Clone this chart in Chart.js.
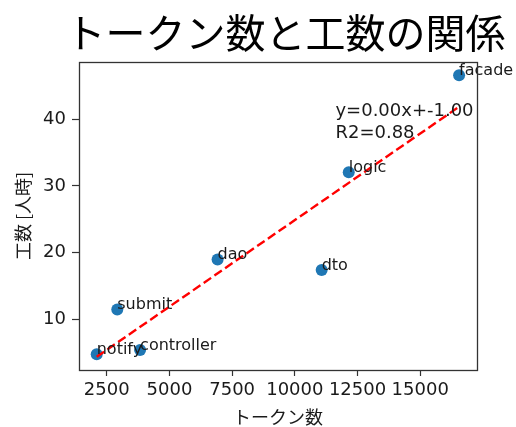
<!DOCTYPE html>
<html>
<head>
<meta charset="utf-8">
<script src="https://cdn.jsdelivr.net/npm/chart.js@4.4.1/dist/chart.umd.min.js"></script>
<style>
  html, body { margin: 0; padding: 0; background: #fff; }
  #wrap { width: 516px; height: 427px; }
</style>
</head>
<body>
<div id="wrap"><canvas id="c" width="516" height="427"></canvas></div>
<script>
// ---- data ----
const names   = ['notify', 'submit', 'controller', 'dao', 'dto', 'logic', 'facade'];
const tokens  = [2100, 2920, 3830, 6920, 11070, 12150, 16550];
const manHours = [4.7, 11.45, 5.35, 18.95, 17.35, 32.05, 46.6];
const xTicks = [2500, 5000, 7500, 10000, 12500, 15000];
const yTicks = [10, 20, 30, 40];
const titleText = 'トークン数と工数の関係';
const xTitle = 'トークン数';
const yTitle = '工数 [人時]';
const eqLines = ['y=0.00x+-1.00', 'R2=0.88'];
const eqAnchor = { x: 11620, y: 40.5 };   // data position of the equation text
const xRange = [1394, 17264];
const yRange = [2.35, 48.6];

// least-squares fit drawn from the data (as the original does)
const n = tokens.length;
const mx = tokens.reduce((a, b) => a + b, 0) / n;
const my = manHours.reduce((a, b) => a + b, 0) / n;
let sxy = 0, sxx = 0;
for (let i = 0; i < n; i++) { sxy += (tokens[i] - mx) * (manHours[i] - my); sxx += (tokens[i] - mx) ** 2; }
const slope = sxy / sxx, intercept = my - slope * mx;
const xmin = Math.min(...tokens), xmax = Math.max(...tokens);
const fitLine = [{ x: xmin, y: slope * xmin + intercept }, { x: xmax, y: slope * xmax + intercept }];

const points = tokens.map((t, i) => ({ x: t, y: manHours[i] }));

const TXT = '#1a1a1a';
const AX = '#333333';

const decor = {
  id: 'decor',
  afterDatasetsDraw(chart) {
    const { ctx, chartArea: ca, scales } = chart;
    ctx.save();
    // point labels
    ctx.font = '16px "DejaVu Sans"';
    ctx.fillStyle = TXT;
    ctx.textAlign = 'left';
    ctx.textBaseline = 'alphabetic';
    names.forEach((nm, i) => {
      ctx.fillText(nm, scales.x.getPixelForValue(tokens[i]), scales.y.getPixelForValue(manHours[i]));
    });
    // equation
    ctx.font = '18px "DejaVu Sans"';
    const ex = scales.x.getPixelForValue(eqAnchor.x);
    const ey = scales.y.getPixelForValue(eqAnchor.y);
    eqLines.forEach((l, i) => ctx.fillText(l, ex, ey + i * 21.6));
    // frame
    ctx.strokeStyle = AX;
    ctx.lineWidth = 1.3;
    ctx.strokeRect(Math.round(ca.left) + 0.5, Math.round(ca.top) + 0.5,
                   Math.round(ca.right - ca.left), Math.round(ca.bottom - ca.top));
    // title
    ctx.font = '40px "Noto Sans CJK JP"';
    ctx.fillStyle = '#000';
    ctx.textAlign = 'center';
    ctx.textBaseline = 'middle';
    ctx.fillText(titleText, 285.5, 33);
    ctx.restore();
  }
};

new Chart(document.getElementById('c'), {
  type: 'scatter',
  data: {
    datasets: [
      {
        type: 'line',
        data: fitLine,
        borderColor: '#ff0000',
        borderWidth: 2.4,
        borderDash: [9, 4],
        pointRadius: 0,
        fill: false,
        order: 0
      },
      {
        data: points,
        backgroundColor: '#1f77b4',
        borderWidth: 0,
        pointRadius: 6,
        order: 1
      }
    ]
  },
  options: {
    responsive: false,
    animation: false,
    events: [],
    layout: { padding: { top: 62, right: 39, left: 0, bottom: 0 } },
    plugins: { legend: { display: false }, tooltip: { enabled: false }, title: { display: false } },
    scales: {
      x: {
        type: 'linear',
        min: xRange[0], max: xRange[1],
        afterFit: s => { s.height = 57; },
        afterBuildTicks: s => { s.ticks = xTicks.map(v => ({ value: v })); },
        grid: { drawOnChartArea: false, drawTicks: true, tickLength: 6, tickColor: AX, tickWidth: 1.2 },
        border: { display: false },
        ticks: { color: TXT, padding: 4, maxRotation: 0, autoSkip: false,
                 font: { family: 'DejaVu Sans', size: 18 }, callback: v => String(v) },
        title: { display: true, text: xTitle, color: TXT, padding: { top: 0, bottom: 0 },
                 font: { family: 'Noto Sans CJK JP', size: 18, lineHeight: 1.1 } }
      },
      y: {
        type: 'linear',
        min: yRange[0], max: yRange[1],
        afterFit: s => { s.width = 79; },
        afterBuildTicks: s => { s.ticks = yTicks.map(v => ({ value: v })); },
        grid: { drawOnChartArea: false, drawTicks: true, tickLength: 7, tickColor: AX, tickWidth: 1.2 },
        border: { display: false },
        ticks: { color: TXT, padding: 6, autoSkip: false,
                 font: { family: 'DejaVu Sans', size: 18 }, callback: v => String(v) },
        title: { display: true, text: yTitle, color: TXT, padding: { top: 12, bottom: 0 },
                 font: { family: 'Noto Sans CJK JP', size: 18, lineHeight: 1.2 } }
      }
    }
  },
  plugins: [decor]
});
</script>
</body>
</html>
